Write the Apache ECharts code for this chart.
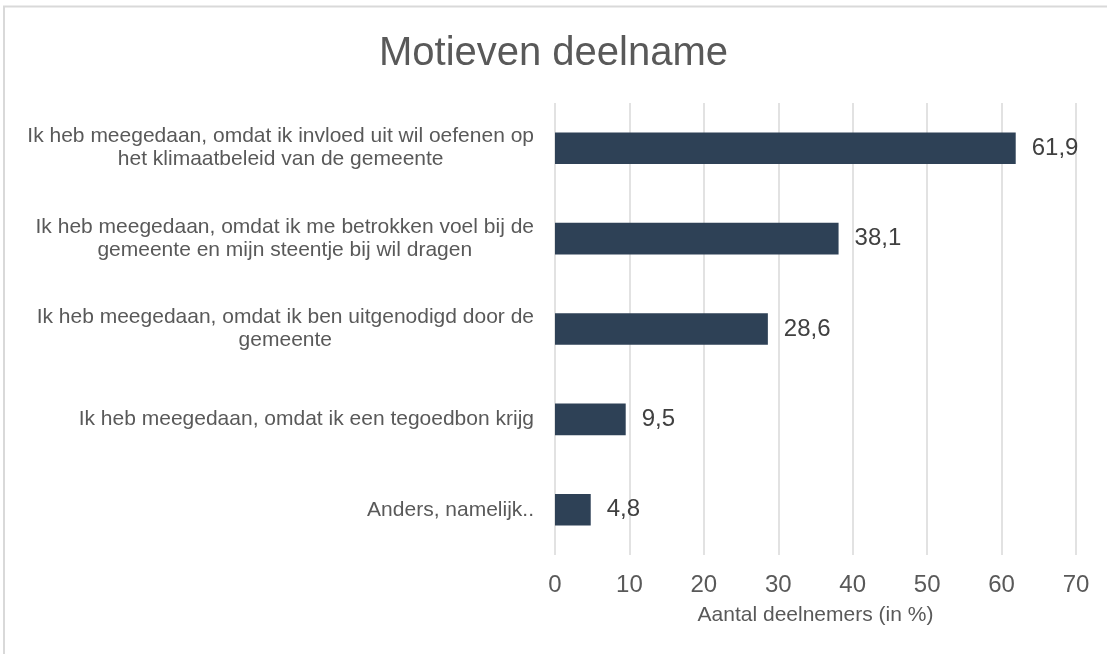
<!DOCTYPE html>
<html>
<head>
<meta charset="utf-8">
<title>Motieven deelname</title>
<script src="https://cdn.jsdelivr.net/npm/echarts@6/dist/echarts.min.js"></script>
<style>
  html, body { margin: 0; padding: 0; background: #fff; }
  #main { width: 1107px; height: 654px; }
</style>
</head>
<body>
<div id="main"></div>
<script>
var categories = [
	'Ik heb meegedaan, omdat ik invloed uit wil oefenen op\nhet klimaatbeleid van de gemeente',
	'Ik heb meegedaan, omdat ik me betrokken voel bij de\ngemeente en mijn steentje bij wil dragen',
	'Ik heb meegedaan, omdat ik ben uitgenodigd door de\ngemeente',
	'Ik heb meegedaan, omdat ik een tegoedbon krijg',
	'Anders, namelijk..'
];
var values = [61.9, 38.1, 28.6, 9.5, 4.8];
var xTicks = [0, 10, 20, 30, 40, 50, 60, 70];

var myChart = echarts.init(document.getElementById('main'));

var option = {
	backgroundColor: '#fff',
	textStyle: { fontFamily: 'Liberation Sans, Arial, sans-serif' },
	title: {
		text: 'Motieven deelname',
		left: 'center',
		top: 29,
		textStyle: { fontSize: 40, fontWeight: 'normal', color: '#595959' }
	},
	graphic: [{
		type: 'rect',
		shape: { x: 4, y: 6.5, width: 1200, height: 700 },
		style: { fill: 'none', stroke: '#d9d9d9', lineWidth: 2 },
		silent: true
	}],
	grid: {
		left: 555,
		right: 31,
		top: 103,
		bottom: 99,
		outerBoundsMode: 'none'
	},
	xAxis: {
		type: 'value',
		min: xTicks[0],
		max: xTicks[xTicks.length - 1],
		interval: 10,
		name: 'Aantal deelnemers (in %)',
		nameLocation: 'middle',
		nameGap: 50,
		nameTextStyle: { fontSize: 21, color: '#595959' },
		axisLine: { show: false },
		axisTick: { show: false },
		axisLabel: { fontSize: 24, color: '#595959', margin: 18 },
		splitLine: { lineStyle: { color: '#d9d9d9', width: 1.5 } }
	},
	yAxis: {
		type: 'category',
		inverse: true,
		data: categories,
		axisLine: { show: false },
		axisTick: { show: false },
		axisLabel: {
			margin: 21,
			formatter: function (v) {
				return v.split('\n').map(function (l) { return '{c|' + l + '}'; }).join('\n');
			},
			rich: {
				c: { align: 'center', fontSize: 21, color: '#595959', lineHeight: 23 }
			}
		}
	},
	series: [{
		type: 'bar',
		data: values,
		barWidth: '35%',
		itemStyle: { color: '#2e4156' },
		label: {
			show: true,
			position: 'right',
			distance: 16,
			fontSize: 24,
			color: '#404040',
			formatter: function (p) { return p.value.toFixed(1).replace('.', ','); }
		}
	}]
};

myChart.setOption(option);
window.onresize = myChart.resize;
</script>
</body>
</html>
